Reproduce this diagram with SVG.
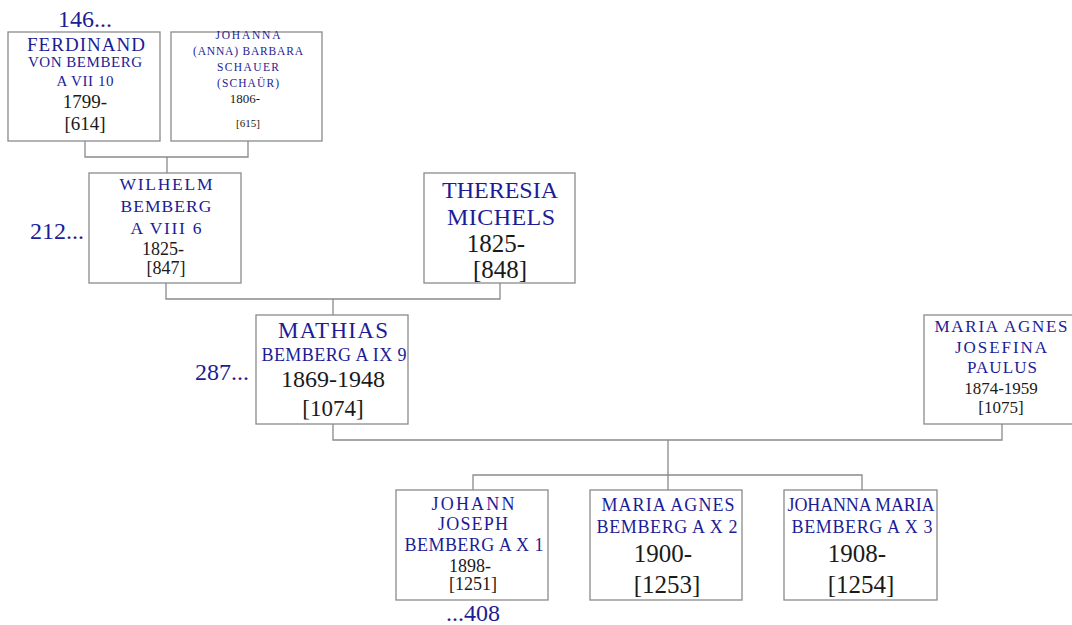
<svg xmlns="http://www.w3.org/2000/svg" width="1072" height="625" viewBox="0 0 1072 625">
<style>
.box{fill:#fff;stroke:#8a8a8a;stroke-width:1.3}
.ln{fill:none;stroke:#8a8a8a;stroke-width:1.3}
text{font-family:"Liberation Serif","DejaVu Serif",serif;text-anchor:middle}
.nm{fill:#1c1c96}
.dt{fill:#1a1a1a}
.ref{fill:#1c1c96;font-size:24px}
</style>
<rect width="1072" height="625" fill="#fff"/>
<g id="connectors">
<path class="ln" d="M85 141V157H248V141M167 157V173"/>
<path class="ln" d="M166 283V299H500V283M333 299V315"/>
<path class="ln" d="M333 424V440H1002V424M668 440V475"/>
<path class="ln" d="M473 490V475H862V490M668 475V490"/>
</g>
<g id="ref146"><text class="ref" x="85" y="27">146...</text></g>
<g id="ref212"><text class="ref" x="57" y="239">212...</text></g>
<g id="ref287"><text class="ref" x="222" y="380">287...</text></g>
<g id="ref408"><text class="ref" x="473" y="621">...408</text></g>
<g id="n614">
<rect class="box" x="8" y="32" width="152" height="109"/>
<text class="nm" x="86" y="51" font-size="19" textLength="118" lengthAdjust="spacing">FERDINAND</text>
<text class="nm" x="85" y="67" font-size="15" textLength="114" lengthAdjust="spacing">VON BEMBERG</text>
<text class="nm" x="85" y="86" font-size="15" textLength="57" lengthAdjust="spacing">A VII 10</text>
<text class="dt" x="85" y="108" font-size="19">1799-</text>
<text class="dt" x="85" y="130" font-size="19">[614]</text>
</g>
<g id="n615">
<rect class="box" x="171" y="32" width="151" height="109"/>
<text class="nm" x="248" y="39" font-size="11.5" textLength="65" lengthAdjust="spacing">JOHANNA</text>
<text class="nm" x="248" y="55" font-size="11.5" textLength="110" lengthAdjust="spacing">(ANNA) BARBARA</text>
<text class="nm" x="248" y="71" font-size="11.5" textLength="62" lengthAdjust="spacing">SCHAUER</text>
<text class="nm" x="248" y="87" font-size="11.5" textLength="62" lengthAdjust="spacing">(SCHAÜR)</text>
<text class="dt" x="245" y="103" font-size="13">1806-</text>
<text class="dt" x="248" y="127" font-size="11">[615]</text>
</g>
<g id="n847">
<rect class="box" x="89" y="173" width="152" height="110"/>
<text class="nm" x="166" y="190" font-size="17.5" textLength="93" lengthAdjust="spacing">WILHELM</text>
<text class="nm" x="166" y="212" font-size="17.5" textLength="91" lengthAdjust="spacing">BEMBERG</text>
<text class="nm" x="166" y="234" font-size="17.5" textLength="71" lengthAdjust="spacing">A VIII 6</text>
<text class="dt" x="163" y="255" font-size="18">1825-</text>
<text class="dt" x="166" y="274" font-size="18">[847]</text>
</g>
<g id="n848">
<rect class="box" x="424" y="173" width="151" height="110"/>
<text class="nm" x="500" y="198" font-size="24" textLength="116" lengthAdjust="spacing">THERESIA</text>
<text class="nm" x="501" y="225" font-size="24" textLength="108" lengthAdjust="spacing">MICHELS</text>
<text class="dt" x="496" y="252" font-size="25">1825-</text>
<text class="dt" x="500" y="278" font-size="25">[848]</text>
</g>
<g id="n1074">
<rect class="box" x="256" y="315" width="152" height="109"/>
<text class="nm" x="333" y="338" font-size="23" textLength="110" lengthAdjust="spacing">MATHIAS</text>
<text class="nm" x="334" y="361" font-size="18" textLength="145" lengthAdjust="spacing">BEMBERG A IX 9</text>
<text class="dt" x="333" y="387" font-size="24">1869-1948</text>
<text class="dt" x="333" y="416" font-size="23">[1074]</text>
</g>
<g id="n1075">
<rect class="box" x="924" y="315" width="152" height="109"/>
<text class="nm" x="1001" y="332" font-size="17" textLength="133" lengthAdjust="spacing">MARIA AGNES</text>
<text class="nm" x="1001" y="353" font-size="17" textLength="92" lengthAdjust="spacing">JOSEFINA</text>
<text class="nm" x="1002" y="373" font-size="17" textLength="70" lengthAdjust="spacing">PAULUS</text>
<text class="dt" x="1001" y="394" font-size="17">1874-1959</text>
<text class="dt" x="1001" y="413" font-size="17">[1075]</text>
</g>
<g id="n1251">
<rect class="box" x="396" y="490" width="152" height="110"/>
<text class="nm" x="473" y="510" font-size="18" textLength="83" lengthAdjust="spacing">JOHANN</text>
<text class="nm" x="473" y="530" font-size="18" textLength="70" lengthAdjust="spacing">JOSEPH</text>
<text class="nm" x="474" y="551" font-size="18" textLength="139" lengthAdjust="spacing">BEMBERG A X 1</text>
<text class="dt" x="470" y="572" font-size="18">1898-</text>
<text class="dt" x="473" y="590" font-size="18">[1251]</text>
</g>
<g id="n1253">
<rect class="box" x="590" y="490" width="152" height="110"/>
<text class="nm" x="668" y="511" font-size="18" textLength="133" lengthAdjust="spacing">MARIA AGNES</text>
<text class="nm" x="667" y="533" font-size="18" textLength="141" lengthAdjust="spacing">BEMBERG A X 2</text>
<text class="dt" x="663" y="562" font-size="25">1900-</text>
<text class="dt" x="667" y="593" font-size="25">[1253]</text>
</g>
<g id="n1254">
<rect class="box" x="784" y="490" width="153" height="110"/>
<text class="nm" x="861" y="511" font-size="18" textLength="147" lengthAdjust="spacing">JOHANNA MARIA</text>
<text class="nm" x="862" y="533" font-size="18" textLength="141" lengthAdjust="spacing">BEMBERG A X 3</text>
<text class="dt" x="857" y="562" font-size="25">1908-</text>
<text class="dt" x="861" y="593" font-size="25">[1254]</text>
</g>
</svg>
